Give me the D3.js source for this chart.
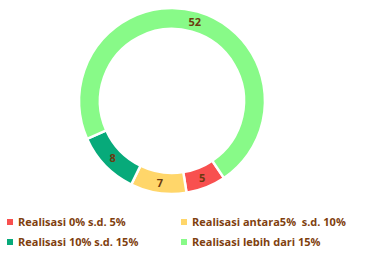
<!DOCTYPE html>
<html>
<head>
<meta charset="utf-8">
<script src="https://cdn.jsdelivr.net/npm/d3@7"></script>
<style>
  body { margin: 0; background: #fff; }
  text { font-family: "Open Sans", "Liberation Sans", sans-serif; font-weight: bold; }
</style>
</head>
<body>
<svg id="chart" width="375" height="264"></svg>
<script>
var categories = ["Realisasi 0% s.d. 5%", "Realisasi antara5%  s.d. 10%", "Realisasi 10% s.d. 15%", "Realisasi lebih dari 15%"];
var values = [5, 7, 8, 52];
var colors = ["#f8504f", "#ffd66a", "#07aa7a", "#88fa88"];

var svg = d3.select("#chart");

var cx = 172, cy = 101,
    outerR = 93, innerR = 72;

var pie = d3.pie()
    .sort(null)
    .startAngle(146 * Math.PI / 180)
    .endAngle(146 * Math.PI / 180 + 2 * Math.PI);

var arc = d3.arc().innerRadius(innerR).outerRadius(outerR);

var g = svg.append("g")
    .attr("transform", "translate(" + cx + "," + cy + ")");

var slices = pie(values.map(function(v, i) { return {v: v, i: i}; }).map(function(d) { return d.v; }));

g.selectAll("path")
    .data(slices)
  .enter().append("path")
    .attr("d", arc)
    .style("fill", function(d, i) { return colors[i]; })
    .style("stroke", "#fff")
    .style("stroke-width", 2.5);

g.selectAll("text.lbl")
    .data(slices)
  .enter().append("text")
    .attr("class", "lbl")
    .attr("transform", function(d) { return "translate(" + arc.centroid(d) + ")"; })
    .attr("text-anchor", "middle")
    .attr("dy", "0.36em")
    .attr("font-size", "11px")
    .attr("fill", "#6b3a10")
    .text(function(d) { return d.value; });

// legend
var legX = [7, 181], legY = [222, 242];

var leg = svg.selectAll("g.leg")
    .data(categories)
  .enter().append("g")
    .attr("class", "leg")
    .attr("transform", function(d, i) { return "translate(" + legX[i % 2] + "," + legY[Math.floor(i / 2)] + ")"; });

leg.append("rect")
    .attr("x", 0)
    .attr("y", -3)
    .attr("width", 6)
    .attr("height", 6)
    .style("fill", function(d, i) { return colors[i]; });

leg.append("text")
    .attr("x", 11)
    .attr("dy", "0.36em")
    .attr("font-size", "11px")
    .attr("fill", "#7f3f0f")
    .style("white-space", "pre")
    .attr("xml:space", "preserve")
    .text(function(d) { return d; });
</script>
</body>
</html>
